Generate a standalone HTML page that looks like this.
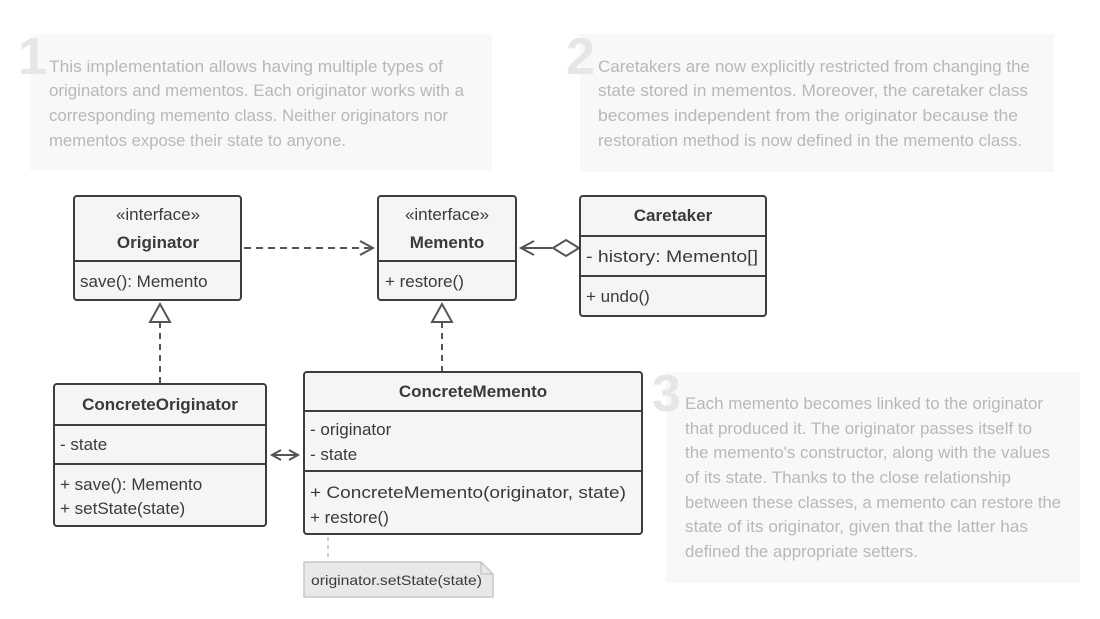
<!DOCTYPE html>
<html><head><meta charset="utf-8"><style>
html,body{margin:0;padding:0;background:#fff}
svg{display:block}
.d{font-family:"Liberation Sans",sans-serif;fill:#b8b8b8;font-size:16.5px}
.n{font-family:"Liberation Sans",sans-serif;fill:#e6e6e6;font-size:52px;font-weight:bold}
.t{font-family:"Liberation Sans",sans-serif;fill:#3a3a3a;font-size:17px}
.b{font-weight:bold}
.box{fill:#f5f5f5;stroke:#3d3d3d;stroke-width:2}
.ln{stroke:#3d3d3d;stroke-width:2}
.cn{stroke:#555;stroke-width:2;fill:none}
</style></head><body>
<svg width="1100" height="619" viewBox="0 0 1100 619">
<rect x="30" y="34" width="462" height="136" fill="#f8f8f8"/>
<rect x="580" y="34" width="474" height="138" fill="#f8f8f8"/>
<rect x="666" y="372" width="414" height="211" fill="#f8f8f8"/>
<text class="n" x="18" y="74">1</text>
<text class="n" x="566" y="74">2</text>
<text class="n" x="652" y="411">3</text>
<g class="d">
<text x="49" y="72" textLength="394" lengthAdjust="spacingAndGlyphs">This implementation allows having multiple types of</text>
<text x="49" y="96" textLength="415" lengthAdjust="spacingAndGlyphs">originators and mementos. Each originator works with a</text>
<text x="49" y="121" textLength="399" lengthAdjust="spacingAndGlyphs">corresponding memento class. Neither originators nor</text>
<text x="49" y="146" textLength="297" lengthAdjust="spacingAndGlyphs">mementos expose their state to anyone.</text>
<text x="598" y="72" textLength="432" lengthAdjust="spacingAndGlyphs">Caretakers are now explicitly restricted from changing the</text>
<text x="598" y="96" textLength="430" lengthAdjust="spacingAndGlyphs">state stored in mementos. Moreover, the caretaker class</text>
<text x="598" y="121" textLength="420" lengthAdjust="spacingAndGlyphs">becomes independent from the originator because the</text>
<text x="598" y="146" textLength="424" lengthAdjust="spacingAndGlyphs">restoration method is now defined in the memento class.</text>
<text x="685" y="409" textLength="358" lengthAdjust="spacingAndGlyphs">Each memento becomes linked to the originator</text>
<text x="685" y="434" textLength="347" lengthAdjust="spacingAndGlyphs">that produced it. The originator passes itself to</text>
<text x="685" y="458" textLength="365" lengthAdjust="spacingAndGlyphs">the memento's constructor, along with the values</text>
<text x="685" y="483" textLength="326" lengthAdjust="spacingAndGlyphs">of its state. Thanks to the close relationship</text>
<text x="685" y="508" textLength="376" lengthAdjust="spacingAndGlyphs">between these classes, a memento can restore the</text>
<text x="685" y="532" textLength="343" lengthAdjust="spacingAndGlyphs">state of its originator, given that the latter has</text>
<text x="685" y="557" textLength="233" lengthAdjust="spacingAndGlyphs">defined the appropriate setters.</text>
</g>
<line x1="244" y1="248" x2="372" y2="248" class="cn" stroke-dasharray="7,5"/>
<polyline points="360,241 373,248 360,255" class="cn"/>
<line x1="522" y1="248" x2="552" y2="248" class="cn"/>
<polyline points="534,241 521,248 534,255" class="cn"/>
<polygon points="553,248 566,240 579,248 566,256" fill="#fff" stroke="#555" stroke-width="2"/>
<polygon points="160,304 150,322 170,322" fill="#fff" stroke="#555" stroke-width="2"/>
<line x1="160" y1="322" x2="160" y2="383" class="cn" stroke-dasharray="6,5"/>
<polygon points="442,304 432,322 452,322" fill="#fff" stroke="#555" stroke-width="2"/>
<line x1="442" y1="322" x2="442" y2="371" class="cn" stroke-dasharray="6,5"/>
<line x1="272" y1="455" x2="298" y2="455" class="cn"/>
<polyline points="281,450 272,455 281,460" class="cn"/>
<polyline points="289,450 298,455 289,460" class="cn"/>
<line x1="328" y1="537" x2="328" y2="562" stroke="#bbb" stroke-width="1.5" stroke-dasharray="4,4"/>
<path d="M304 562 H481 L493 574 V597 H304 Z" fill="#e8e8e8" stroke="#c8c8c8" stroke-width="1.5"/>
<path d="M481 562 V574 H493" fill="none" stroke="#c8c8c8" stroke-width="1.5"/>
<text x="311" y="585" class="t" style="font-size:14px" textLength="171" lengthAdjust="spacingAndGlyphs">originator.setState(state)</text>
<rect x="74" y="196" width="167" height="104" rx="3" class="box"/>
<line x1="74" y1="261" x2="241" y2="261" class="ln"/>
<text class="t" x="158" y="220" text-anchor="middle">«interface»</text>
<text class="t b" x="158" y="248" text-anchor="middle">Originator</text>
<text class="t" x="80" y="287">save(): Memento</text>
<rect x="378" y="196" width="138" height="104" rx="3" class="box"/>
<line x1="378" y1="261" x2="516" y2="261" class="ln"/>
<text class="t" x="447" y="220" text-anchor="middle">«interface»</text>
<text class="t b" x="447" y="248" text-anchor="middle">Memento</text>
<text class="t" x="385" y="287">+ restore()</text>
<rect x="580" y="196" width="186" height="120" rx="3" class="box"/>
<line x1="580" y1="236" x2="766" y2="236" class="ln"/>
<line x1="580" y1="276" x2="766" y2="276" class="ln"/>
<text class="t b" x="673" y="221" text-anchor="middle">Caretaker</text>
<text class="t" x="586" y="262" textLength="172" lengthAdjust="spacingAndGlyphs">- history: Memento[]</text>
<text class="t" x="586" y="302">+ undo()</text>
<rect x="54" y="384" width="212" height="142" rx="3" class="box"/>
<line x1="54" y1="425" x2="266" y2="425" class="ln"/>
<line x1="54" y1="464" x2="266" y2="464" class="ln"/>
<text class="t b" x="160" y="410" text-anchor="middle">ConcreteOriginator</text>
<text class="t" x="60" y="450">- state</text>
<text class="t" x="60" y="490">+ save(): Memento</text>
<text class="t" x="60" y="514">+ setState(state)</text>
<rect x="304" y="372" width="338" height="162" rx="3" class="box"/>
<line x1="304" y1="411" x2="642" y2="411" class="ln"/>
<line x1="304" y1="471" x2="642" y2="471" class="ln"/>
<text class="t b" x="473" y="397" text-anchor="middle">ConcreteMemento</text>
<text class="t" x="310" y="435">- originator</text>
<text class="t" x="310" y="460">- state</text>
<text class="t" x="310" y="498" textLength="316" lengthAdjust="spacingAndGlyphs">+ ConcreteMemento(originator, state)</text>
<text class="t" x="310" y="523">+ restore()</text>
</svg>
</body></html>
